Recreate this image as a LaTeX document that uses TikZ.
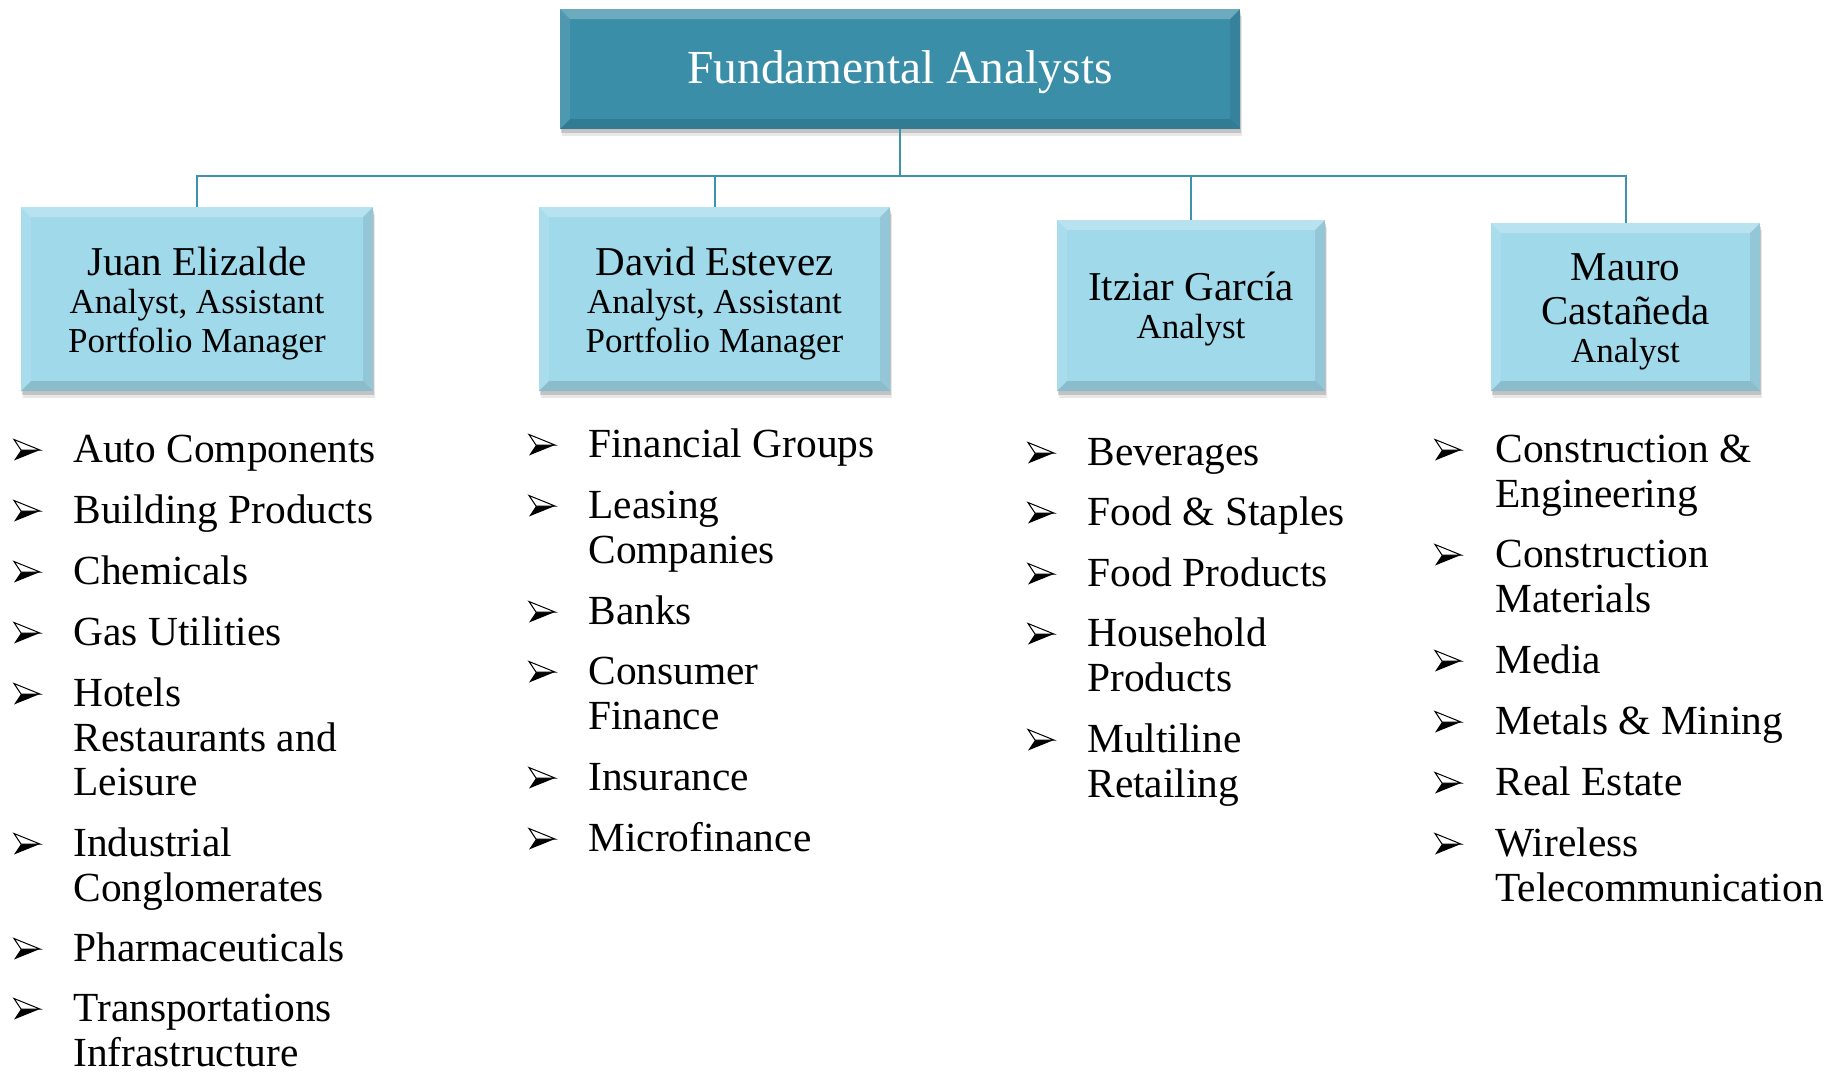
\documentclass[tikz,border=0pt]{standalone}
\usepackage{fontspec}
\setmainfont{Liberation Serif}
\usetikzlibrary{shadows}
\definecolor{titlefill}{RGB}{58,142,168}
\definecolor{boxfill}{RGB}{160,217,234}
\definecolor{linecol}{RGB}{62,146,172}
\tikzset{
  bevel/.style={path picture={
    \fill[white,opacity=.26] (path picture bounding box.north west) -- (path picture bounding box.north east) -- ([xshift=-5pt,yshift=-5pt]path picture bounding box.north east) -- ([xshift=5pt,yshift=-5pt]path picture bounding box.north west) -- cycle;
    \fill[white,opacity=.10] (path picture bounding box.north west) -- ([xshift=5pt,yshift=-5pt]path picture bounding box.north west) -- ([xshift=5pt,yshift=5pt]path picture bounding box.south west) -- (path picture bounding box.south west) -- cycle;
    \fill[black,opacity=.08] (path picture bounding box.north east) -- ([xshift=-5pt,yshift=-5pt]path picture bounding box.north east) -- ([xshift=-5pt,yshift=5pt]path picture bounding box.south east) -- (path picture bounding box.south east) -- cycle;
    \fill[black,opacity=.13] (path picture bounding box.south west) -- ([xshift=5pt,yshift=5pt]path picture bounding box.south west) -- ([xshift=-5pt,yshift=5pt]path picture bounding box.south east) -- (path picture bounding box.south east) -- cycle;
  }},
  softshadow/.style={drop shadow={shadow xshift=0.6pt,shadow yshift=-2pt,opacity=.16,fill=black},drop shadow={shadow xshift=1pt,shadow yshift=-3.5pt,opacity=.09,fill=black}},
  topbox/.style={bevel,softshadow,fill=titlefill,draw=none,inner sep=0,minimum width=340pt,minimum height=60pt,text=white,text height=19.8pt,text depth=5pt,font=\fontsize{23.7}{26}\selectfont},
  childbox/.style={bevel,softshadow,fill=boxfill,draw=none,inner sep=0,align=center,text=black,font=\fontsize{17.5}{19.2}\selectfont},
  conn/.style={draw=linecol,line width=1pt},
  itemtxt/.style={anchor=north west,inner sep=0,align=left,font=\fontsize{20.7}{22.3}\selectfont},
  arrowbul/.pic={
    \fill[black] (13,0) -- (-6,0) -- (-13,10.5) -- cycle;
    \draw[black,line width=0.5pt,line join=miter,fill=white] (13,0) -- (-13,-10.5) -- (-6,0) -- cycle;
  }
}
\newcommand\nm[2]{{\fontsize{20.5}{21}\selectfont\rule{0pt}{#1}#2}}
\newcommand\litem[5]{\pic at (#2,#4) {arrowbul}; \node[itemtxt] (#1) at (#3,{#4-19}) {\strut #5};}
\begin{document}
\begin{tikzpicture}[x=0.5pt,y=-0.5pt]
\useasboundingbox (0,0) rectangle (1837,1072);
\node[topbox] (title) at (900,69) {Fundamental Analysts};
\node[childbox,minimum width=176pt,minimum height=92pt] (juan) at (197,299) {\nm{18.7pt}{Juan Elizalde}\\ Analyst, Assistant\\ Portfolio Manager};
\node[childbox,minimum width=175.5pt,minimum height=92pt] (david) at (714.5,299) {\nm{18.7pt}{David Estevez}\\ Analyst, Assistant\\ Portfolio Manager};
\node[childbox,minimum width=134pt,minimum height=85.5pt] (itziar) at (1191,305.5) {\nm{18pt}{Itziar García}\\ Analyst};
\node[childbox,minimum width=134.5pt,minimum height=84pt] (mauro) at (1625.5,307) {\nm{18.6pt}{Mauro}\\[2.5pt] \nm{0pt}{Castañeda}\\ Analyst};
\coordinate (bus) at (900,176);
\draw[conn] (title.south) -- (bus);
\draw[conn] (juan.north) |- (bus);
\draw[conn] (david.north) |- (bus);
\draw[conn] (itziar.north) |- (bus);
\draw[conn] (mauro.north) |- (bus);
% column 1
\litem{a1}{27}{73}{450}{Auto Components}
\litem{a2}{27}{73}{511}{Building Products}
\litem{a3}{27}{73}{572}{Chemicals}
\litem{a4}{27}{73}{633}{Gas Utilities}
\litem{a5}{27}{73}{694}{Hotels\\ Restaurants and\\ Leisure}
\litem{a6}{27}{73}{844}{Industrial\\ Conglomerates}
\litem{a7}{27}{73}{949}{Pharmaceuticals}
\litem{a8}{27}{73}{1009}{Transportations\\ Infrastructure}
% column 2
\litem{b1}{542}{588}{445}{Financial Groups}
\litem{b2}{542}{588}{506}{Leasing\\ Companies}
\litem{b3}{542}{588}{612}{Banks}
\litem{b4}{542}{588}{672}{Consumer\\ Finance}
\litem{b5}{542}{588}{778}{Insurance}
\litem{b6}{542}{588}{839}{Microfinance}
% column 3
\litem{c1}{1041}{1087}{453}{Beverages}
\litem{c2}{1041}{1087}{513}{Food \& Staples}
\litem{c3}{1041}{1087}{574}{Food Products}
\litem{c4}{1041}{1087}{634}{Household\\ Products}
\litem{c5}{1041}{1087}{740}{Multiline\\ Retailing}
% column 4
\litem{d1}{1448}{1495}{450}{Construction \&\\ Engineering}
\litem{d2}{1448}{1495}{555}{Construction\\ Materials}
\litem{d3}{1448}{1495}{661}{Media}
\litem{d4}{1448}{1495}{722}{Metals \& Mining}
\litem{d5}{1448}{1495}{783}{Real Estate}
\litem{d6}{1448}{1495}{844}{Wireless\\ Telecommunication}
\end{tikzpicture}
\end{document}
